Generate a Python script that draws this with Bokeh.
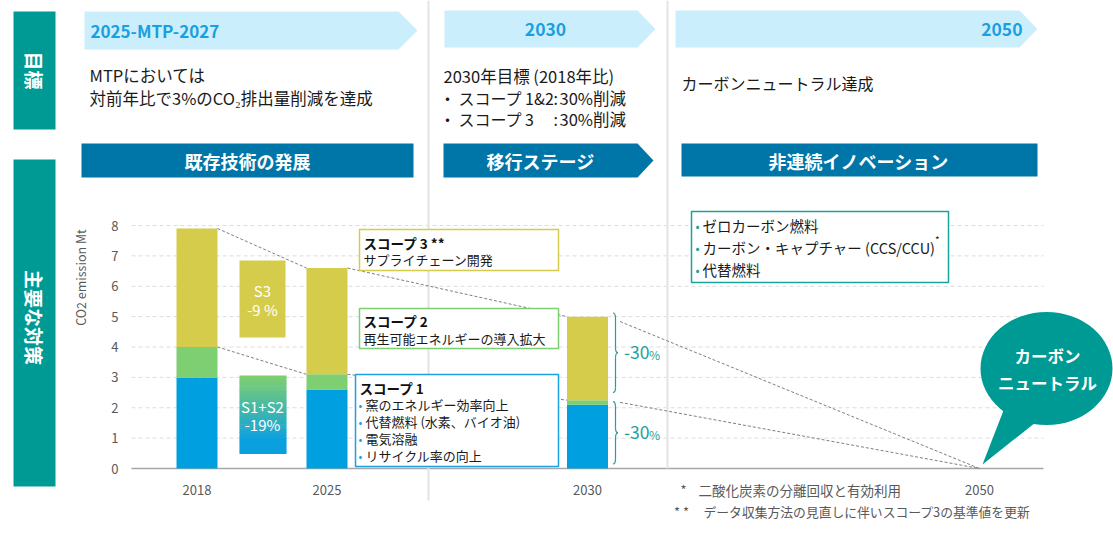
import math
from bokeh.plotting import figure
from bokeh.models import Range1d
from bokeh.core.properties import value
from bokeh.embed import file_html
from bokeh.resources import INLINE

# ---------------- data ----------------
years = ["2018", "2025", "2030", "2050"]
scope1 = [3.0, 2.6, 2.1, 0.0]      # Mt CO2
scope2 = [1.0, 0.5, 0.15, 0.0]
scope3 = [3.9, 3.5, 2.75, 0.0]
y_ticks = [0, 1, 2, 3, 4, 5, 6, 7, 8]
s3_change = ["S3", "-9 %"]
s12_change = ["S1+S2", "-19%"]
target_2030 = "-30"

# ---------------- layout / style ----------------
W, H = 1113, 534
BASE = 468.0          # screen row of the 0 Mt line
UNIT = 30.375         # screen pixels per Mt
FONT = "Noto Sans CJK JP"

TEAL = "#009A94"
TEAL_TXT = "#1AA39E"
BLUE = "#009FE0"
GREEN = "#7ECE72"
YELLOW = "#D5CC4C"
DARK_BANNER = "#0076A8"
LIGHT_BANNER = "#CBEEFC"
BANNER_TXT = "#1A9FE0"
GRAY_TXT = "#595959"
GRID = "#DCDCDC"
SEP = "#E3E3E3"
LINK = "#7F7F7F"

bar_x = [196.5, 326.5, 587.0, 979.0]
BAR_W = 41.0


def Y(px):
    """screen row -> data value on the Mt scale"""
    return (BASE - px) / UNIT


p = figure(width=W, height=H, x_range=Range1d(0, W), y_range=Range1d(Y(H), Y(0)),
           min_border=0, toolbar_location=None, output_backend="svg",
           x_axis_location=None, y_axis_location=None, outline_line_color=None,
           background_fill_color="white", border_fill_color="white")
p.grid.visible = False


def txt(x, ypx, s, size, color="#1a1a1a", align="left", bold=False, angle=0.0):
    p.text(x=[x], y=[Y(ypx)], text=[s], text_font=value(FONT),
           text_font_size=f"{size}px", text_color=color, text_align=align,
           text_baseline="middle", text_font_style="bold" if bold else "normal",
           angle=angle)


def box(l, r, t, b, fill, line=None, lw=1.5):
    p.quad(left=[l], right=[r], top=[Y(t)], bottom=[Y(b)], fill_color=fill,
           line_color=line, line_width=lw)


def chevron(l, r, t, b, tip, fill):
    m = (t + b) / 2
    p.patch(x=[l, r, tip, r, l], y=[Y(t), Y(t), Y(m), Y(b), Y(b)],
            fill_color=fill, line_color=None)


# ---------------- gridlines, axis, separators ----------------
grid_vals = [t for t in y_ticks if t > 0]
p.segment(x0=[131] * len(grid_vals), x1=[1043] * len(grid_vals), y0=grid_vals,
          y1=grid_vals, line_color=GRID, line_width=1, line_dash="4 3")
p.segment(x0=[131], x1=[1043], y0=[0], y1=[0], line_color="#A6A6A6", line_width=1.5)

p.segment(x0=[428, 667], x1=[428, 667], y0=[Y(0), Y(0)], y1=[Y(500), 0],
          line_color=SEP, line_width=2)

p.text(x=[118] * len(y_ticks), y=y_ticks, text=[str(t) for t in y_ticks],
       text_font=value(FONT), text_font_size="13px", text_color=GRAY_TXT,
       text_align="right", text_baseline="middle")
txt(80, 277, "CO2 emission Mt", 12.5, GRAY_TXT, "center", angle=math.pi / 2)
for xc, yr in zip(bar_x, years):
    txt(xc, 489, yr, 13, GRAY_TXT, "center")

# ---------------- stacked bars ----------------
s12_top = [a + b for a, b in zip(scope1, scope2)]
total = [a + b for a, b in zip(s12_top, scope3)]
idx = [i for i, t in enumerate(total) if t > 0]

# dashed trend links between bars
lx0, ly0, lx1, ly1 = [], [], [], []
for i, j in [(0, 1), (1, 2)]:
    for series in (total, s12_top):
        lx0.append(bar_x[i] + BAR_W / 2); ly0.append(series[i])
        lx1.append(bar_x[j] - BAR_W / 2); ly1.append(series[j])
xa, xb = bar_x[2] + BAR_W / 2, bar_x[3]
xs = xa + 12
for series in (total, s12_top):
    lx0.append(xs); ly0.append(series[2] * (xb - xs) / (xb - xa))
    lx1.append(xb); ly1.append(series[3])
p.segment(x0=lx0, y0=ly0, x1=lx1, y1=ly1, line_color=LINK, line_width=1,
          line_dash="3 2")

p.vbar(x=[bar_x[i] for i in idx], width=BAR_W, bottom=0,
       top=[scope1[i] for i in idx], fill_color=BLUE, line_color=None)
p.vbar(x=[bar_x[i] for i in idx], width=BAR_W, bottom=[scope1[i] for i in idx],
       top=[s12_top[i] for i in idx], fill_color=GREEN, line_color=None)
p.vbar(x=[bar_x[i] for i in idx], width=BAR_W, bottom=[s12_top[i] for i in idx],
       top=[total[i] for i in idx], fill_color=YELLOW, line_color=None)

# ---------------- change badges between 2018 and 2025 ----------------
box(239, 285, 260, 337, YELLOW)
txt(262, 290, s3_change[0], 15, "white", "center")
txt(262, 309, s3_change[1], 15, "white", "center")

g0 = (126, 207, 113)
g1 = (10, 160, 224)
n = 40
top_px, bot_px = 375.0, 453.0
step = (bot_px - top_px) / n
for k in range(n):
    f = min(1.0, (k / (n - 1)) / 0.85)
    c = tuple(int(round(a * (1 - f) + b * f)) for a, b in zip(g0, g1))
    t = top_px + k * step
    p.quad(left=[239], right=[286], top=[Y(t)], bottom=[Y(t + step + 0.6)],
           fill_color="#%02x%02x%02x" % c, line_color=None)
txt(262, 406, s12_change[0], 15, "white", "center")
txt(262, 424, s12_change[1], 15, "white", "center")

# ---------------- braces and 2030 targets ----------------
def brace(x0, t, b):
    m = (t + b) / 2
    d = 5
    xm = x0 + 2.5
    p.quadratic(x0=[x0, xm, x0 + 5, xm], y0=[Y(t), Y(m - d), Y(m), Y(b - d)],
                x1=[xm, x0 + 5, xm, x0], y1=[Y(t + d), Y(m), Y(m + d), Y(b)],
                cx=[xm, xm, xm, xm], cy=[Y(t), Y(m), Y(m), Y(b)],
                line_color=TEAL_TXT, line_width=1.2)
    p.segment(x0=[xm, xm], x1=[xm, xm], y0=[Y(t + d), Y(m + d)], y1=[Y(m - d), Y(b - d)],
              line_color=TEAL_TXT, line_width=1.2)
    return m


bx = bar_x[2] + BAR_W / 2 + 5
m1 = brace(bx, BASE - (total[2] + 0.12) * UNIT, BASE - (s12_top[2] + 0.25) * UNIT)
m2 = brace(bx, BASE - (s12_top[2] - 0.05) * UNIT, BASE - 0.15 * UNIT)
for m in (m1, m2):
    txt(bx + 11, m, target_2030, 17.5, TEAL_TXT, "left")
    txt(bx + 36, m + 1.5, "%", 12, TEAL_TXT, "left")

# ---------------- scope boxes ----------------
box(359, 558, 229, 270, "white", YELLOW)
txt(363, 242, "スコープ 3 **", 13.5, "#111111", bold=True)
txt(363, 259, "サプライチェーン開発", 13)

box(359, 558, 308, 348, "white", GREEN)
txt(363, 320, "スコープ 2", 13.5, "#111111", bold=True)
txt(363, 338, "再生可能エネルギーの導入拡大", 13)

box(355, 558, 374, 466, "white", "#1BA1E2")
txt(359, 387, "スコープ 1", 13.5, "#111111", bold=True)
s1_items = ["窯のエネルギー効率向上", "代替燃料  (水素、バイオ油)", "電気溶融", "リサイクル率の向上"]
for k, s in enumerate(s1_items):
    yy = 404 + k * 17
    txt(358, yy, "•", 11, "#1BA1E2")
    txt(365, yy, s, 13)

box(691, 948, 211, 282, "white", TEAL_TXT)
inno_items = ["ゼロカーボン燃料", "カーボン・キャプチャー (CCS/CCU)", "代替燃料"]
for k, s in enumerate(inno_items):
    yy = 225 + k * 22
    txt(695, yy, "•", 12, TEAL_TXT)
    txt(702, yy, s, 14.5)
txt(934.5, 239, "*", 10)

# ---------------- carbon neutral bubble ----------------
p.patch(x=[1003, 1035, 982], y=[Y(410), Y(422), Y(464)], fill_color=TEAL, line_color=None)
p.ellipse(x=[1046], y=[Y(368)], width=132, height=113 / UNIT, fill_color=TEAL,
          line_color=None)
txt(1047, 355, "カーボン", 16.5, "white", "center", bold=True)
txt(1047, 382, "ニュートラル", 16.5, "white", "center", bold=True)

# ---------------- footnotes ----------------
txt(683, 489, "*", 13, GRAY_TXT, "center")
txt(698, 489, "二酸化炭素の分離回収と有効利用", 13.5, GRAY_TXT)
txt(681, 511, "* *", 13, GRAY_TXT, "center")
txt(703, 511, "データ収集方法の見直しに伴いスコープ3の基準値を更新", 12.8, GRAY_TXT)

# ---------------- header: side labels ----------------
box(13, 55, 11, 129, TEAL)
box(13, 55, 159, 486, TEAL)
txt(34, 70, "目標", 19, "white", "center", bold=True, angle=-math.pi / 2)
txt(34, 317, "主要な対策", 19, "white", "center", bold=True, angle=-math.pi / 2)

# ---------------- header: period banners ----------------
chevron(84, 398, 11, 49, 417, LIGHT_BANNER)
chevron(444, 637, 10, 47, 655, LIGHT_BANNER)
chevron(675, 1019, 10, 47, 1037, LIGHT_BANNER)
txt(90, 30, "2025-MTP-2027", 17, BANNER_TXT, bold=True)
txt(545, 29, "2030", 17.5, BANNER_TXT, "center", bold=True)
txt(1022, 29, "2050", 17.5, BANNER_TXT, "right", bold=True)

txt(89, 74, "MTPにおいては", 16.5)
txt(89, 97, "対前年比で3%のCO₂排出量削減を達成", 16.5)

txt(443, 75, "2030年目標 (2018年比)", 16.5)
for yy, label in ((97, "スコープ 1&2"), (118, "スコープ 3")):
    txt(447, yy, "・", 16, align="center")
    txt(458, yy, label, 16)
    txt(553, yy, ":", 16)
    txt(559, yy, "30%削減", 16.5)

txt(681, 82, "カーボンニュートラル達成", 16)

# ---------------- header: measure banners ----------------
box(81, 413, 143, 177, DARK_BANNER)
chevron(443, 637, 143, 177, 653, DARK_BANNER)
box(681, 1037, 143, 176, DARK_BANNER)
txt(247, 160, "既存技術の発展", 18, "white", "center", bold=True)
txt(540, 160, "移行ステージ", 18, "white", "center", bold=True)
txt(858, 160, "非連続イノベーション", 18, "white", "center", bold=True)

open("out.html", "w").write(file_html(p, INLINE))
